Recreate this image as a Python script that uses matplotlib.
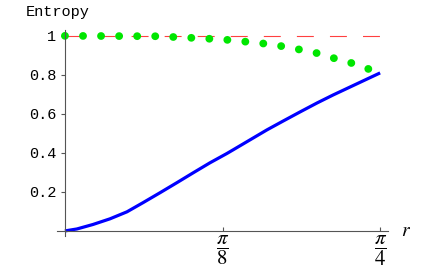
import numpy as np
import matplotlib
matplotlib.use("Agg")
import matplotlib.pyplot as plt

plt.rcParams['mathtext.fontset'] = 'stix'
plt.rcParams['lines.scale_dashes'] = False

# r values given as fractions of pi/4
R_MAX = np.pi / 4

blue_t = [0, 0.038, 0.089, 0.143, 0.197, 0.248, 0.302, 0.356, 0.406, 0.46,
          0.514, 0.533, 0.641, 0.692, 0.746, 0.8, 0.851, 0.905, 0.959, 1.0]
blue_y = [0, 0.010, 0.033, 0.062, 0.098, 0.145, 0.196, 0.248, 0.297, 0.349,
          0.397, 0.415, 0.518, 0.563, 0.61, 0.656, 0.697, 0.738, 0.779, 0.81]

green_t = [0, 0.29, 0.40, 0.46, 0.52, 0.58, 0.64, 0.70, 0.75, 0.81,
           0.86, 0.92, 0.97, 1.0]
green_y = [1.0, 0.998, 0.99, 0.985, 0.979, 0.969, 0.959, 0.944, 0.928, 0.908,
           0.882, 0.856, 0.826, 0.81]

red_t = [0, 1.0]
red_y = [1.0, 1.0]

ytick_vals = [0.2, 0.4, 0.6, 0.8, 1.0]
ytick_labels = ['0.2', '0.4', '0.6', '0.8', '1']
xtick_vals = [np.pi / 8, np.pi / 4]
xtick_labels = [r'$\dfrac{\pi}{8}$', r'$\dfrac{\pi}{4}$']

fig = plt.figure(figsize=(4.37, 2.70), dpi=100)
ax = fig.add_axes([57 / 437, 34 / 270, 331 / 437, 206 / 270])

ax.plot(np.array(red_t) * R_MAX, red_y, color='#ff4040', lw=0.8,
        linestyle=(0, (12.2, 11.6)))
ax.plot(np.array(green_t) * R_MAX, green_y, color='#00e600', lw=5.6,
        linestyle=(0, (0.1, 12.9)), dash_capstyle='round')
ax.plot(np.array(blue_t) * R_MAX, blue_y, color='#0000ff', lw=2.3,
        solid_capstyle='butt', solid_joinstyle='round')

ax.set_xlim(-0.025 * R_MAX, 1.025 * R_MAX)
ax.set_ylim(-0.026, 1.03)

for s in ['top', 'right']:
    ax.spines[s].set_visible(False)
for s in ['left', 'bottom']:
    ax.spines[s].set_color('#555555')
    ax.spines[s].set_linewidth(0.8)
    ax.spines[s].set_position(('data', 0))

ax.set_yticks(ytick_vals)
ax.set_yticklabels(ytick_labels, family='Liberation Mono', fontsize=11)
ax.set_xticks(xtick_vals)
ax.set_xticklabels(xtick_labels, fontsize=15)
ax.tick_params(axis='y', direction='out', length=3, width=0.8,
               color='#555555', pad=3)
ax.tick_params(axis='x', direction='in', length=3, width=0.8,
               color='#555555', pad=2)

fig.text(26 / 437, 1 - 12 / 270, 'Entropy', family='Liberation Mono',
         fontsize=11, va='center', ha='left')
fig.text(401 / 437, 1 - 231 / 270, r'$r$', fontsize=14, va='center',
         ha='left')

fig.savefig('out.png', dpi=100)
